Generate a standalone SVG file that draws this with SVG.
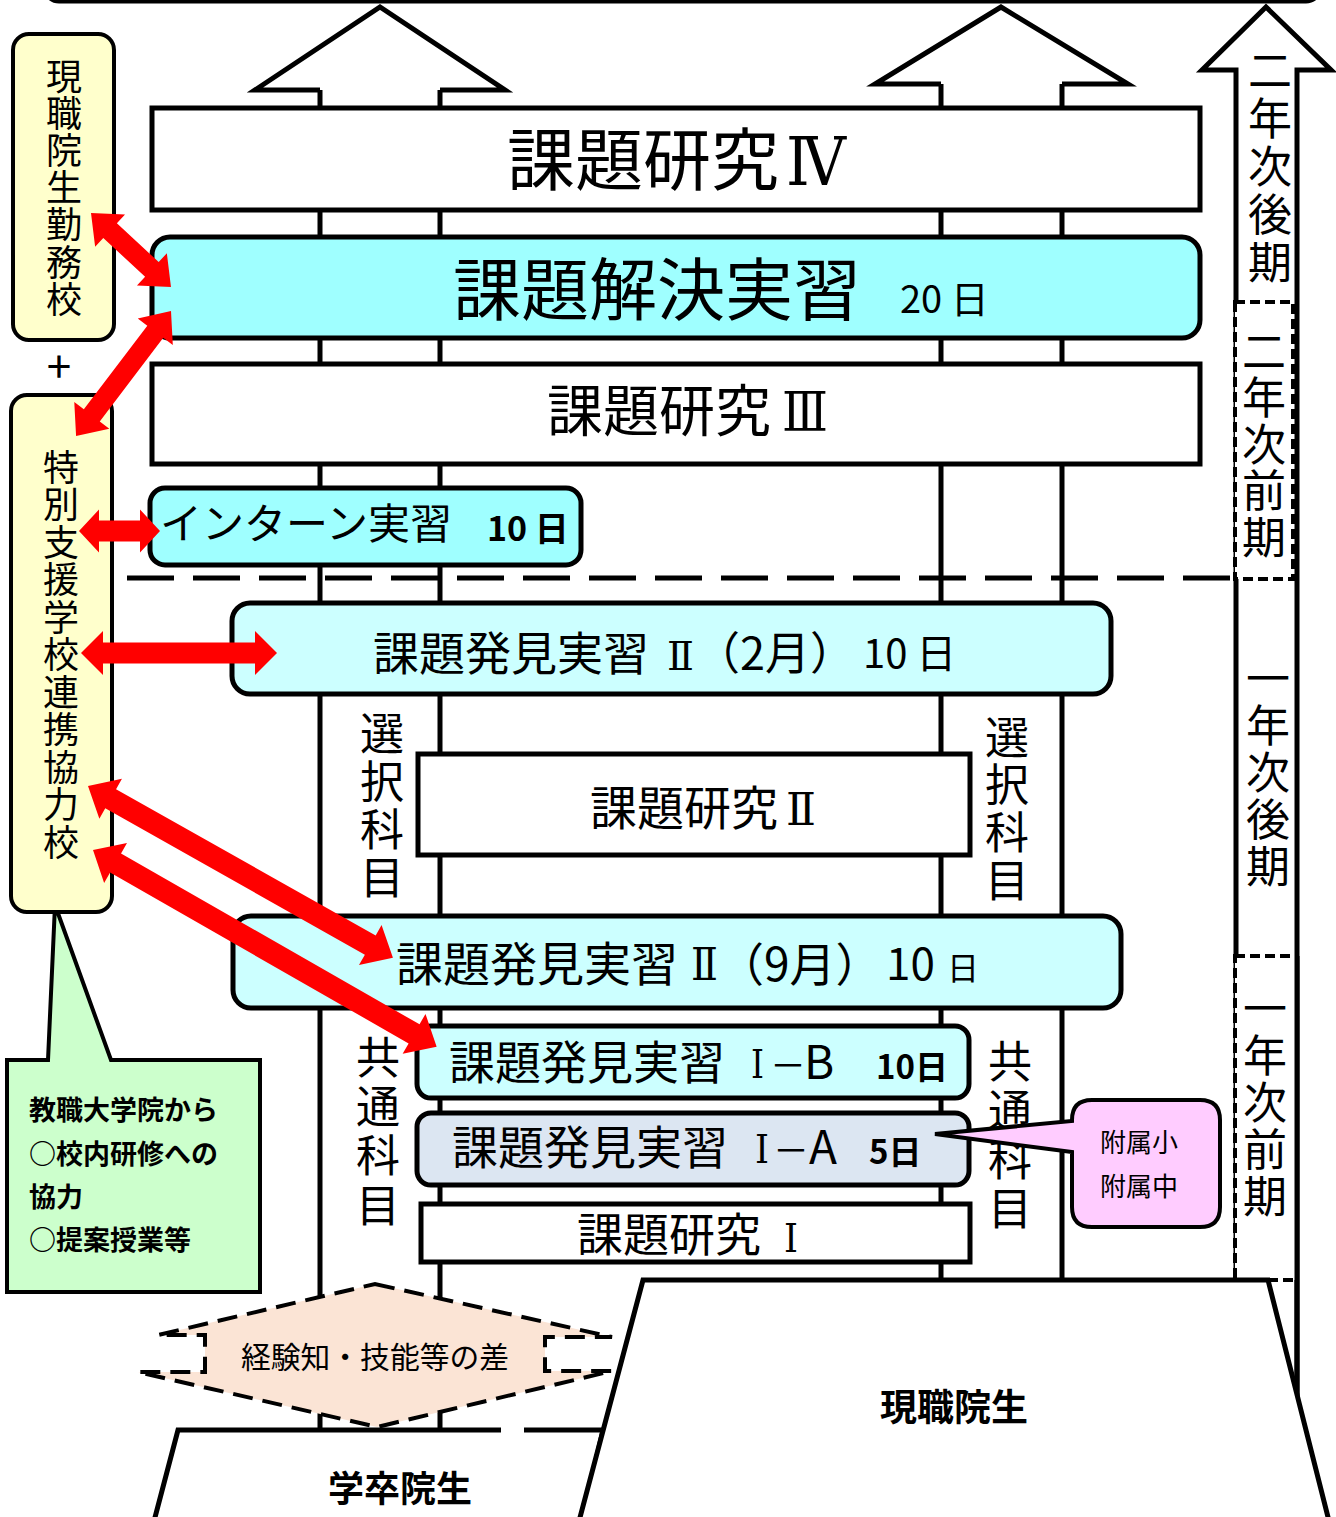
<svg xmlns="http://www.w3.org/2000/svg" width="1336" height="1517" viewBox="0 0 1336 1517">
<style>
.ln{stroke:#000;stroke-width:5;fill:none}
.bx{stroke:#000;stroke-width:5}
.w{fill:#fff}
.cy{fill:#9FFFFF}
.lc{fill:#CCFFFF}
.gb{fill:#DCE6F2}
.yl{fill:#FFFFCC;stroke:#000;stroke-width:4}
.t{font-family:"Noto Sans CJK JP","Noto Sans",sans-serif;fill:#000}
.r{font-family:"DejaVu Serif","Liberation Serif","Noto Sans CJK JP",serif;fill:#000}
.b{font-weight:bold}
.m{text-anchor:middle}
.v{writing-mode:vertical-rl;font-family:"Noto Sans CJK JP","Noto Sans",sans-serif;fill:#000}
.dash{stroke:#000;stroke-width:4;stroke-dasharray:10 5;fill:#fff}
.red{fill:#FF0000}
</style>
<rect x="0" y="0" width="1336" height="1517" fill="#fff"/>
<g id="top-frame"><rect x="45" y="-51" width="1275" height="52" rx="14" class="ln"/></g>
<g id="structure">
<line x1="320" y1="90" x2="320" y2="1430" class="ln"/>
<line x1="440" y1="90" x2="440" y2="1430" class="ln"/>
<line x1="941" y1="84" x2="941" y2="1280" class="ln"/>
<line x1="1062" y1="84" x2="1062" y2="1280" class="ln"/>
<polyline points="320,90 255,90 380,7 505,90 440,90" class="ln" style="fill:#fff"/>
<polyline points="941,84 875,84 1001,7 1128,84 1062,84" class="ln" style="fill:#fff"/>
<polyline points="1236,1282 1236,70 1202,70 1266,7 1331,70 1297,70 1297,1400" class="ln"/>
<rect x="1235" y="302" width="58" height="277" class="dash"/>
<rect x="1235" y="956" width="62" height="324" class="dash"/>
<line x1="1297" y1="956" x2="1297" y2="1400" class="ln"/>
<line x1="127" y1="578" x2="1236" y2="578" stroke="#000" stroke-width="5" stroke-dasharray="47 19"/>
</g>
<g id="kadai4"><rect x="152" y="108" width="1048" height="102" class="bx w"/>
<text x="507" y="185" font-size="68" class="t">課題研究</text>
<text x="786" y="185" font-size="68" class="r" textLength="60" lengthAdjust="spacingAndGlyphs">Ⅳ</text></g>
<g id="kaiketsu"><rect x="152" y="237" width="1048" height="101" rx="18" class="bx cy"/>
<text y="315" font-size="68" class="t"><tspan x="453">課題解決実習</tspan><tspan x="900" y="313" font-size="38">20 日</tspan></text></g>
<g id="kadai3"><rect x="152" y="364" width="1048" height="100" class="bx w"/>
<text x="547" y="431" font-size="56" class="t">課題研究</text>
<text x="782" y="431" font-size="55" class="r" textLength="46" lengthAdjust="spacingAndGlyphs">Ⅲ</text></g>
<g id="intern"><rect x="150" y="488" width="431" height="77" rx="15" class="bx cy"/>
<text y="539" font-size="42" class="t"><tspan x="160">インターン実習</tspan><tspan x="487" y="541" font-size="34" class="b">10 日</tspan></text></g>
<g id="hakken2-feb"><rect x="232" y="603" width="879" height="91" rx="18" class="bx lc"/>
<text x="373" y="670" font-size="46" class="t">課題発見実習</text>
<text x="667" y="670" font-size="40" class="r" textLength="27" lengthAdjust="spacingAndGlyphs">Ⅱ</text>
<text x="695" y="670" font-size="45" class="t">（2月）</text>
<text x="863" y="668" font-size="40" class="t">10 日</text></g>
<g id="sentaku-left"><text x="382" y="711" font-size="44" letter-spacing="4" class="v">選択科目</text></g>
<g id="sentaku-right"><text x="1007" y="715" font-size="44" letter-spacing="3.7" class="v">選択科目</text></g>
<g id="kadai2"><rect x="418" y="754" width="552" height="101" class="bx w"/>
<text x="590" y="825" font-size="47" class="t">課題研究</text>
<text x="786" y="825" font-size="44" class="r" textLength="30" lengthAdjust="spacingAndGlyphs">Ⅱ</text></g>
<g id="hakken2-sep"><rect x="233" y="916" width="888" height="92" rx="18" class="bx lc"/>
<text x="396" y="981" font-size="47" class="t">課題発見実習</text>
<text x="691" y="980" font-size="44" class="r" textLength="27" lengthAdjust="spacingAndGlyphs">Ⅱ</text>
<text x="718" y="981" font-size="46" class="t">（9月）</text>
<text y="980" class="t"><tspan x="886" font-size="44">10 </tspan><tspan x="947" font-size="32">日</tspan></text></g>
<g id="kyotsu-left"><text x="378" y="1035" font-size="44" letter-spacing="5.3" class="v">共通科目</text></g>
<g id="kyotsu-right"><text x="1010" y="1039" font-size="44" letter-spacing="5" class="v">共通科目</text></g>
<g id="hakken1b"><rect x="417" y="1026" width="552" height="72" rx="14" class="bx lc"/>
<text x="449" y="1079" font-size="46" class="t">課題発見実習</text>
<text x="751" y="1078" font-size="39" class="r" textLength="13" lengthAdjust="spacingAndGlyphs">Ⅰ</text>
<text y="1079" font-size="46" class="t"><tspan x="770" font-size="36">－</tspan><tspan x="804">B</tspan></text>
<text x="876" y="1079" font-size="33" class="t b">10日</text></g>
<g id="hakken1a"><rect x="417" y="1113" width="552" height="72" rx="14" class="bx gb"/>
<text x="452" y="1164" font-size="46" class="t">課題発見実習</text>
<text x="755" y="1163" font-size="39" class="r" textLength="14" lengthAdjust="spacingAndGlyphs">Ⅰ</text>
<text y="1164" font-size="46" class="t"><tspan x="773" font-size="36">－</tspan><tspan x="809">A</tspan></text>
<text x="869" y="1164" font-size="33" class="t b">5日</text></g>
<g id="kadai1"><rect x="421" y="1204" width="549" height="58" class="bx w"/>
<text x="577" y="1251" font-size="46" class="t">課題研究</text>
<text x="784" y="1252" font-size="40" class="r" textLength="14" lengthAdjust="spacingAndGlyphs">Ⅰ</text></g>
<g id="gakusotsu"><polygon points="153,1525 178,1430 603,1430 581,1525" class="bx w"/>
<rect x="501" y="1426" width="23" height="8" fill="#fff"/>
<text x="400" y="1502" font-size="36" class="t b m">学卒院生</text></g>
<g id="genshoku"><polygon points="578,1525 643,1280 1268,1280 1330,1525" class="bx w"/>
<text x="954" y="1421" font-size="37" class="t b m">現職院生</text></g>
<g id="gap"><polygon points="375,1284 612,1337 545,1337 545,1371 612,1371 377,1427 138,1372 205,1372 205,1335 158,1335" fill="#FBE4D5" stroke="#000" stroke-width="4" stroke-dasharray="20 10"/>
<text x="241" y="1368" font-size="30" class="t" textLength="268" lengthAdjust="spacingAndGlyphs">経験知・技能等の差</text></g>
<g id="kyoshoku-note"><path d="M7,1060 H48 L55,905 L111,1060 H260 V1292 H7 Z" fill="#CCFFCC" stroke="#000" stroke-width="4"/>
<text font-size="27" class="t b"><tspan x="29" y="1120">教職大学院から</tspan><tspan x="29" y="1164">○校内研修への</tspan><tspan x="29" y="1207">協力</tspan><tspan x="29" y="1250">○提案授業等</tspan></text></g>
<g id="genshoku-school"><rect x="13" y="34" width="101" height="306" rx="16" class="yl"/>
<text x="64" y="58" font-size="36" letter-spacing="1.2" class="v">現職院生勤務校</text></g>
<g id="plus"><text x="59" y="383" font-size="44" class="t m">+</text></g>
<g id="tokubetsu-school"><rect x="11" y="395" width="101" height="517" rx="16" class="yl"/>
<text x="61" y="449" font-size="36" letter-spacing="1.5" class="v">特別支援学校連携協力校</text></g>
<g id="fuzoku"><path d="M1092,1100 H1200 Q1220,1100 1220,1120 V1207 Q1220,1227 1200,1227 H1092 Q1072,1227 1072,1207 V1152 L935,1134 L1072,1121 V1120 Q1072,1100 1092,1100 Z" fill="#FFCCFF" stroke="#000" stroke-width="4"/>
<text font-size="26" class="t"><tspan x="1100" y="1152">附属小</tspan><tspan x="1100" y="1196">附属中</tspan></text></g>
<g id="connectors">
<polygon transform="translate(91,213) rotate(42.8)" points="0,0 26,-22 26,-10 83,-10 83,-22 109,0 83,22 83,10 26,10 26,22" class="red"/>
<polygon transform="translate(171,311) rotate(127.2)" points="0,0 26,-22 26,-10 131,-10 131,-22 157,0 131,22 131,10 26,10 26,22" class="red"/>
<polygon transform="translate(79,531)" points="0,0 20,-21.5 20,-10.5 61,-10.5 61,-21.5 81,0 61,21.5 61,10.5 20,10.5 20,21.5" class="red"/>
<polygon transform="translate(81,653)" points="0,0 22,-22 22,-10.5 174,-10.5 174,-22 196,0 174,22 174,10.5 22,10.5 22,22" class="red"/>
<polygon transform="translate(88,786) rotate(29.4)" points="0,0 26,-23 26,-11 324,-11 324,-23 350,0 324,23 324,11 26,11 26,23" class="red"/>
<polygon transform="translate(93,850) rotate(29.8)" points="0,0 26,-23 26,-11 370,-11 370,-23 396,0 370,23 370,11 26,11 26,23" class="red"/>
</g>
<g id="timeline">
<text x="1270" y="48" font-size="44" letter-spacing="4" class="v">二年次後期</text>
<text x="1264" y="329" font-size="44" letter-spacing="2.5" class="v">二年次前期</text>
<text x="1268" y="656" font-size="44" letter-spacing="3" class="v">一年次後期</text>
<text x="1265" y="986" font-size="44" letter-spacing="3" class="v">一年次前期</text>
</g>
</svg>
